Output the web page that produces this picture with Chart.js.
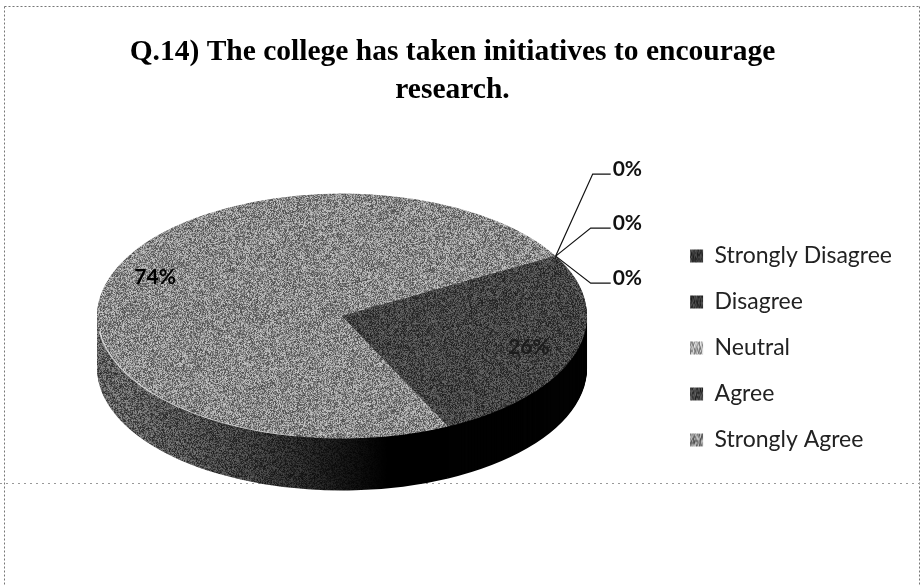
<!DOCTYPE html>
<html lang="en">
<head>
    <meta charset="UTF-8">
    <title>Q.14</title>
    <script src="https://cdn.jsdelivr.net/npm/chart.js"></script>
    <style>
        html, body { margin: 0; padding: 0; background: #fff; overflow: hidden; }
        #wrap { position: relative; width: 923px; height: 586px; }
    </style>
</head>
<body>
<div id="wrap"><canvas id="pie" width="923" height="586"></canvas></div>

<script>
    const titleLines = ['Q.14) The college has taken initiatives to encourage', 'research.'];
    const categories = ['Strongly Disagree', 'Disagree', 'Neutral', 'Agree', 'Strongly Agree'];
    const percentages = [0, 0, 0, 26, 74];

    const SQUASH = 0.5;      // pie tilt
    const DEPTH = 52;        // side wall height in px
    const LIFT = -34;        // pie sits higher than the centre of its area
    const NUDGE = 7;         // and a bit to the right of it
    const LEGEND_DROP = 55;  // legend sits lower than the canvas middle
    const ZERO_ARMS = [[37, -82, 55], [35, -28, 55], [35, 27, 55]];

    // scan look: every shade gets some grain
    let seed = 12345;
    function grain() {
        seed = (seed + 0x6D2B79F5) | 0;
        let t = Math.imul(seed ^ (seed >>> 15), 1 | seed);
        t = (t + Math.imul(t ^ (t >>> 7), 61 | t)) ^ t;
        return ((t ^ (t >>> 14)) >>> 0) / 4294967296;
    }

    function grainPattern(w, h, grayAt) {
        const c = document.createElement('canvas');
        c.width = w; c.height = h;
        const g = c.getContext('2d');
        const img = g.createImageData(w, h);
        for (let y = 0; y < h; y++) {
            for (let x = 0; x < w; x++) {
                const gray = grayAt(x);
                const v = gray + (grain() - 0.5) * Math.min(gray, 110) * 1.2;
                const i = (y * w + x) * 4;
                img.data[i] = img.data[i + 1] = img.data[i + 2] = v;
                img.data[i + 3] = 255;
            }
        }
        g.putImageData(img, 0, 0);
        const p = document.createElement('canvas').getContext('2d').createPattern(c, 'repeat');
        p.setTransform(new DOMMatrix().scale(1, 1 / SQUASH));   // keep the grain 1px after squash
        return p;
    }

    const flat = gray => grainPattern(200, 200, () => gray);
    const topColors = [flat(60), flat(55), flat(170), flat(68), flat(138)];

    // wall of the big slice fades to black towards the front
    const wallFade = grainPattern(923, 128, x => {
        if (x < 120) return 95;
        if (x < 240) return 95 - (x - 120) / 120 * 35;
        if (x < 380) return 60 - (x - 240) / 140 * 60;
        return 0;
    });
    const wallColors = ['#000', '#000', '#000', '#020202', wallFade];

    const pseudo3d = {
        id: 'pseudo3d',
        beforeDraw(chart) {
            const { ctx } = chart;
            ctx.save();
            ctx.fillStyle = '#fff';
            ctx.fillRect(0, 0, chart.width, chart.height);
            ctx.strokeStyle = '#777';
            ctx.lineWidth = 1;
            ctx.setLineDash([2, 2]);
            ctx.beginPath();
            ctx.moveTo(4.5, 6.5); ctx.lineTo(919.5, 6.5);
            ctx.moveTo(4.5, 6.5); ctx.lineTo(4.5, 586);
            ctx.moveTo(919.5, 6.5); ctx.lineTo(919.5, 586);
            ctx.stroke();
            ctx.strokeStyle = '#999';
            ctx.setLineDash([2, 4]);
            ctx.beginPath();
            ctx.moveTo(0, 483.5); ctx.lineTo(923, 483.5);
            ctx.stroke();
            ctx.restore();
        },
        afterLayout(chart) {
            chart.legend.top += LEGEND_DROP;
            chart.legend.bottom += LEGEND_DROP;
        },
        beforeDatasetDraw(chart) {
            const { ctx } = chart;
            const arcs = chart.getDatasetMeta(0).data;
            const cx = arcs[0].x, cy = arcs[0].y;
            ctx.save();
            ctx.translate(cx + NUDGE, cy + LIFT);
            ctx.scale(1, SQUASH);
            ctx.translate(-cx, -cy);

            // side wall: the same arcs stacked downwards, grain held still
            for (let d = DEPTH / SQUASH; d > 0; d -= 2) {
                wallFade.setTransform(new DOMMatrix().translate(0, -d).scale(1, 1 / SQUASH));
                arcs.forEach((arc, i) => {
                    const opts = arc.options;
                    arc.options = Object.assign({}, opts, { backgroundColor: wallColors[i], borderWidth: 0 });
                    ctx.save();
                    ctx.translate(0, d);
                    arc.draw(ctx);
                    ctx.restore();
                    arc.options = opts;
                });
            }
        },
        afterDatasetDraw(chart) {
            const { ctx } = chart;
            const arcs = chart.getDatasetMeta(0).data;
            const big = arcs[4];
            // light rim along the front left of the top face
            ctx.beginPath();
            ctx.arc(big.x, big.y, big.outerRadius - 0.5, Math.PI * 0.56, Math.PI * 0.96);
            ctx.strokeStyle = 'rgba(235,235,235,0.7)';
            ctx.lineWidth = 1.5;
            ctx.stroke();
            ctx.restore();

            ctx.save();
            ctx.font = 'bold 21px Lato';
            ctx.textAlign = 'center';
            ctx.textBaseline = 'middle';

            // labels of the two real slices
            [3, 4].forEach(i => {
                const a = arcs[i];
                const mid = (a.startAngle + a.endAngle) / 2;
                const x = a.x + NUDGE + Math.cos(mid) * a.outerRadius * 0.8;
                const y = a.y + LIFT + Math.sin(mid) * a.outerRadius * 0.8 * SQUASH + (i === 4 ? -9 : 2);
                ctx.fillStyle = i === 3 ? '#1c1c1c' : '#000';
                ctx.fillText(percentages[i] + '%', x, y);
            });

            // the three empty slices get leader lines from the shared edge
            const edge = arcs[0];
            const ax = edge.x + NUDGE + Math.cos(edge.startAngle) * edge.outerRadius;
            const ay = edge.y + LIFT + Math.sin(edge.startAngle) * edge.outerRadius * SQUASH;
            ctx.strokeStyle = '#111';
            ctx.fillStyle = '#111';
            ctx.lineWidth = 1.2;
            ctx.textAlign = 'left';
            ZERO_ARMS.forEach(([dx, dy, end], i) => {
                ctx.beginPath();
                ctx.moveTo(ax, ay);
                ctx.lineTo(ax + dx, ay + dy);
                ctx.lineTo(ax + end, ay + dy);
                ctx.stroke();
                ctx.fillText(percentages[i] + '%', ax + end + 2, ay + dy - 5);
            });
            ctx.restore();
        }
    };

    new Chart(document.getElementById('pie'), {
        type: 'pie',
        data: {
            labels: categories,
            datasets: [{
                data: percentages,
                backgroundColor: topColors,
                borderWidth: 0,
                radius: 245,
                clip: false
            }]
        },
        options: {
            responsive: false,
            animation: false,
            rotation: 60.7,
            events: [],
            layout: { padding: { left: 3, right: 21 } },
            plugins: {
                tooltip: { enabled: false },
                title: {
                    display: true,
                    text: titleLines,
                    color: '#000',
                    font: { family: 'Liberation Serif', size: 29.5, weight: 'bold', lineHeight: 1.29 },
                    padding: { top: 33, bottom: 5 }
                },
                legend: {
                    position: 'right',
                    labels: {
                        color: '#222',
                        font: { family: 'Lato', size: 23, lineHeight: 1.2 },
                        boxWidth: 13,
                        boxHeight: 13,
                        padding: 23
                    }
                }
            }
        },
        plugins: [pseudo3d]
    });
</script>
</body>
</html>
